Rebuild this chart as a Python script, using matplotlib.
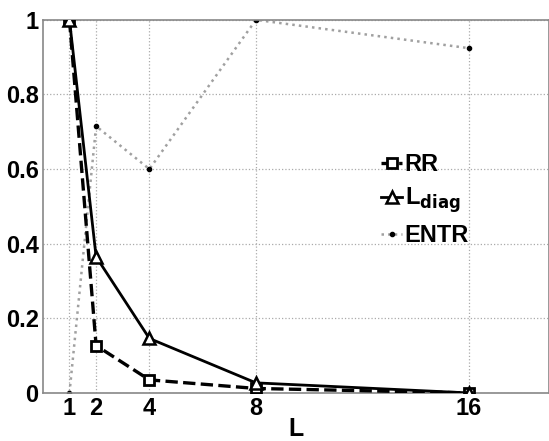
import matplotlib
matplotlib.use('Agg')
import matplotlib.pyplot as plt

# window length L and the three normalised measures
L = [1, 2, 4, 8, 16]
rr = [1.0, 0.127, 0.035, 0.012, 0.0]
l_diag = [1.0, 0.365, 0.146, 0.027, 0.0]
entr = [0.0, 0.715, 0.60, 1.0, 0.924]
xticks = [1, 2, 4, 8, 16]
yticks = [0, 0.2, 0.4, 0.6, 0.8, 1]

plt.rcParams['font.family'] = ['Liberation Sans', 'DejaVu Sans']
plt.rcParams['font.weight'] = 'bold'
plt.rcParams['mathtext.default'] = 'bf'

fig = plt.figure(figsize=(5.49, 4.41), dpi=100)
ax = fig.add_axes([0.078, 0.109, 0.922, 0.846])

ax.plot(L, rr, color='black', linestyle='--', linewidth=2.4, marker='s',
        markersize=6.5, markerfacecolor='white', markeredgewidth=2.0, label='RR', zorder=3)
ax.plot(L, l_diag, color='black', linestyle='-', linewidth=2.0, marker='^',
        markersize=9, markerfacecolor='white', markeredgewidth=1.8, label='L$_{diag}$', zorder=3)
ax.plot(L, entr, color='#a0a0a0', linestyle=':', linewidth=1.8, marker='o',
        markersize=3, markerfacecolor='black', markeredgecolor='black', label='ENTR', zorder=2)

ax.set_xlim(0, 19)
ax.set_ylim(0, 1)
ax.set_xticks(xticks)
ax.set_yticks(yticks)
ax.set_xticklabels([str(v) for v in xticks])
ax.set_yticklabels(['0', '0.2', '0.4', '0.6', '0.8', '1'])
ax.tick_params(labelsize=17, length=0, pad=3)
ax.grid(True, linestyle=':', color='#aaaaaa', linewidth=0.9)
for s in ax.spines.values():
    s.set_color('#888888')
    s.set_linewidth(1.2)
ax.set_xlabel('L', fontsize=18, fontweight='bold', labelpad=-2)

leg = ax.legend(loc='upper left', bbox_to_anchor=(0.645, 0.675), frameon=False,
                fontsize=17, handlelength=0.9, handletextpad=0.1, labelspacing=0.4,
                borderpad=0)

fig.savefig('out.png', dpi=100)
